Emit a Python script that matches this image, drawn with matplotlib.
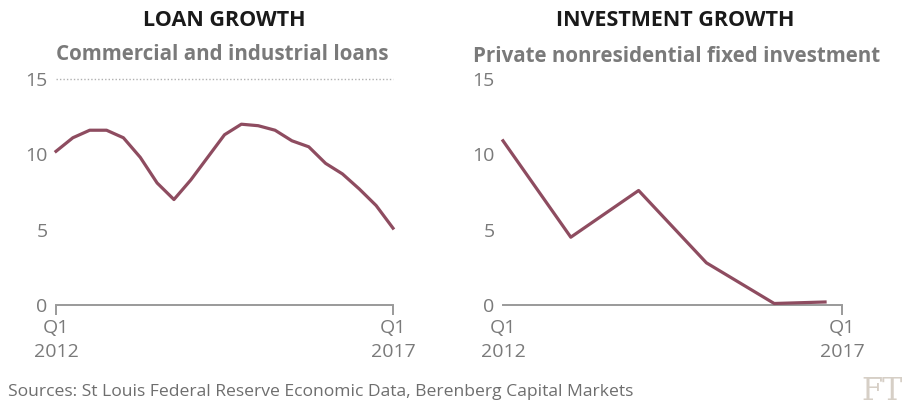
import matplotlib
matplotlib.use("Agg")
import matplotlib.pyplot as plt

# loan growth, quarterly, Q1 2012 .. Q1 2017 (% y/y)
loan_q = list(range(21))
loan_growth = [10.2, 11.1, 11.6, 11.6, 11.1, 9.8, 8.1, 7.0, 8.3, 9.8, 11.3,
               12.0, 11.9, 11.6, 10.9, 10.5, 9.4, 8.7, 7.7, 6.6, 5.1]

# private nonresidential fixed investment (% y/y)
inv_q = [0, 4, 8, 12, 16, 19]
inv_growth = [10.9, 4.5, 7.6, 2.8, 0.1, 0.2]

y_ticks = [0, 5, 10, 15]
x_ticks = [0, 20]
x_labels = ["Q1\n2012", "Q1\n2017"]

titles = ["LOAN GROWTH", "INVESTMENT GROWTH"]
subtitles = ["Commercial and industrial loans", "Private nonresidential fixed investment"]
source = "Sources: St Louis Federal Reserve Economic Data, Berenberg Capital Markets"

plt.rcParams["font.family"] = ["Open Sans", "DejaVu Sans"]

LINE = "#8e4c60"
GREY = "#7a7a7a"
AXIS = "#9a9a9a"

W, H = 903, 407
fig = plt.figure(figsize=(W / 100, H / 100), dpi=100)

def px_axes(x0, x1, y_top, y_bottom):
    return fig.add_axes([x0 / W, 1 - y_bottom / H, (x1 - x0) / W, (y_bottom - y_top) / H])

ax1 = px_axes(56, 393, 79, 305)
ax2 = px_axes(503, 842, 79, 305)

ax1.plot(loan_q, loan_growth, color=LINE, lw=2.3, solid_joinstyle="round", zorder=3)
ax2.plot(inv_q, inv_growth, color=LINE, lw=2.3, solid_joinstyle="round", zorder=3)

# dotted line at the top of the loan panel
ax1.axhline(15, color="#b0b0b0", lw=1, ls=(0, (1, 1.5)), zorder=1)

for ax in (ax1, ax2):
    ax.set_xlim(0, 20)
    ax.set_ylim(0, 15)
    for s in ("top", "right", "left"):
        ax.spines[s].set_visible(False)
    ax.spines["bottom"].set_color(AXIS)
    ax.spines["bottom"].set_linewidth(1.4)
    ax.spines["bottom"].set_zorder(2)
    ax.set_yticks(y_ticks)
    ax.set_yticklabels([str(v) for v in y_ticks])
    ax.tick_params(axis="y", length=0, pad=6, labelsize=14, labelcolor=GREY)
    ax.set_xticks(x_ticks)
    ax.set_xticklabels(x_labels, linespacing=1.45)
    ax.tick_params(axis="x", direction="out", length=7, width=1.4, color=AXIS,
                   pad=3, labelsize=14, labelcolor=GREY)
    for ln in ax.get_lines():
        ln.set_clip_on(False)

# the investment panel only has a tick at the right end
ax2.xaxis.get_major_ticks()[0].tick1line.set_visible(False)

# titles and subtitles
fig.text(224 / W, 1 - 20 / H, titles[0], ha="center", va="center",
         fontsize=15.5, fontweight="bold", color="#1a1a1a")
fig.text(675 / W, 1 - 20 / H, titles[1], ha="center", va="center",
         fontsize=15.5, fontweight="bold", color="#1a1a1a")
fig.text(56 / W, 1 - 54 / H, subtitles[0], ha="left", va="center",
         fontsize=14.8, fontweight="bold", color=GREY)
fig.text(473 / W, 1 - 57 / H, subtitles[1], ha="left", va="center",
         fontsize=14.8, fontweight="bold", color=GREY)

fig.text(8 / W, 1 - 392 / H, source, ha="left", va="center",
         fontsize=12.6, color="#6e6e6e")
fig.text(903 / W, 1 - 392 / H, "FT", ha="right", va="center",
         fontsize=22, color="#d6cfc6", family="DejaVu Serif")

fig.savefig("out.png", dpi=100, facecolor="white")
